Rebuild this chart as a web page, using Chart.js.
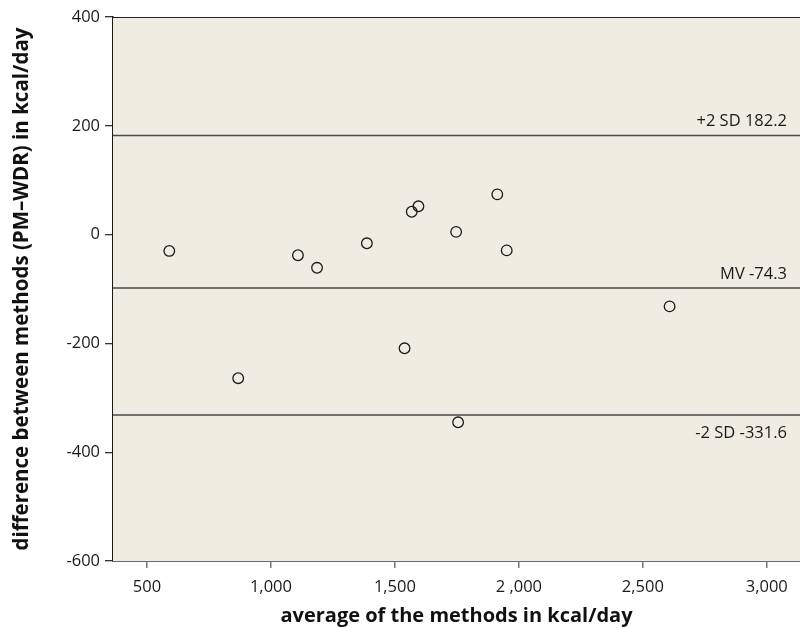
<!DOCTYPE html>
<html><head><meta charset="utf-8">
<script src="https://cdn.jsdelivr.net/npm/chart.js@4"></script>
<style>html,body{margin:0;padding:0;background:#fff;overflow:hidden}#wrap{width:800px;height:628px;overflow:hidden}canvas{display:block}</style>
</head><body><div id="wrap"><canvas id="c" width="800" height="628"></canvas></div>
<script>
// Data
const avgValues  = [590, 868, 1109, 1186, 1387, 1539, 1568, 1595, 1747, 1755, 1913, 1951, 2608];
const diffValues = [-30, -264, -38, -61, -16, -209, 42, 52, 5, -345, 74, -29, -132];
const xTicks = [500, 1000, 1500, 2000, 2500, 3000];
const xTickLabels = ["500", "1,000", "1,500", "2 ,000", "2,500", "3,000"];
const yTicks = [-600, -400, -200, 0, 200, 400];
const yTickLabels = ["-600", "-400", "-200", "0", "200", "400"];
const refLineValues = [182.2, -98, -331.6];
const refLineLabels = ["+2 SD 182.2", "MV -74.3", "-2 SD -331.6"];
const refLabelBelow = [false, false, true];
const xRange = [363, 3134];
const yRange = [-600, 400];

const FONT = "'Open Sans', 'Noto Sans', sans-serif";
const PLOT_BG = '#efece2';

const plotPlugin = {
  id: 'plotDecor',
  beforeDatasetsDraw(chart) {
    const {ctx, chartArea: a} = chart;
    ctx.save();
    ctx.fillStyle = PLOT_BG;
    ctx.fillRect(a.left, a.top, a.right - a.left, a.bottom - a.top);
    ctx.strokeStyle = '#222';
    ctx.lineWidth = 1.2;
    ctx.beginPath();
    ctx.moveTo(a.left, a.top + 0.5);
    ctx.lineTo(a.right, a.top + 0.5);
    ctx.stroke();
    const ys = chart.scales.y;
    ctx.strokeStyle = '#4a4a4a';
    ctx.lineWidth = 1.5;
    ctx.fillStyle = '#1a1a1a';
    ctx.font = "16.5px " + FONT;
    ctx.textAlign = 'right';
    ctx.textBaseline = 'middle';
    refLineValues.forEach((v, i) => {
      const py = ys.getPixelForValue(v);
      ctx.beginPath();
      ctx.moveTo(a.left, py);
      ctx.lineTo(a.right, py);
      ctx.stroke();
      const ty = refLabelBelow[i] ? py + 18 : py - 14;
      ctx.fillText(refLineLabels[i], a.right - 13, ty);
    });
    ctx.restore();
  }
};

new Chart(document.getElementById('c'), {
  type: 'scatter',
  data: {
    datasets: [{
      data: avgValues.map((x, i) => ({x: x, y: diffValues[i]})),
      pointRadius: 5.3,
      pointHoverRadius: 5.3,
      pointBorderWidth: 1.3,
      pointBorderColor: '#1a1a1a',
      pointBackgroundColor: 'rgba(0,0,0,0)',
      showLine: false
    }]
  },
  options: {
    responsive: false,
    animation: false,
    devicePixelRatio: 1,
    events: [],
    layout: {autoPadding: false, padding: {top: 17, right: 0, left: 0, bottom: 0}},
    plugins: {legend: {display: false}, tooltip: {enabled: false}},
    scales: {
      x: {
        type: 'linear',
        min: xRange[0], max: xRange[1],
        afterBuildTicks: s => { s.ticks = xTicks.map(v => ({value: v})); },
        afterFit: s => { s.height = 67; s.paddingRight = 0; s.paddingLeft = 0; },
        ticks: {
          autoSkip: false, maxRotation: 0,
          padding: 9,
          color: '#1a1a1a',
          font: {family: FONT, size: 16.5},
          callback: (v) => { const i = xTicks.indexOf(v); return i >= 0 ? xTickLabels[i] : ''; }
        },
        grid: {drawOnChartArea: false, drawTicks: true, tickLength: 7, color: '#777', lineWidth: 1.5},
        border: {display: true, color: '#6a6a6a', width: 2},
        title: {
          display: true,
          text: 'average of the methods in kcal/day',
          color: '#111',
          font: {family: FONT, size: 20, weight: 'bold'},
          padding: {top: 0, bottom: 0}
        }
      },
      y: {
        type: 'linear',
        min: yRange[0], max: yRange[1],
        afterBuildTicks: s => { s.ticks = yTicks.map(v => ({value: v})); },
        afterFit: s => { s.width = 113; s.paddingTop = 0; s.paddingBottom = 0; },
        ticks: {
          autoSkip: false,
          padding: 5,
          color: '#1a1a1a',
          font: {family: FONT, size: 16.5},
          callback: (v) => { const i = yTicks.indexOf(v); return i >= 0 ? yTickLabels[i] : ''; }
        },
        grid: {drawOnChartArea: false, drawTicks: true, tickLength: 8, color: '#333', lineWidth: 1.3},
        border: {display: true, color: '#1a1a1a', width: 1.5},
        title: {
          display: true,
          text: 'difference between methods (PM\u2013WDR) in kcal/day',
          color: '#111',
          font: {family: FONT, size: 20.5, weight: 'bold'},
          padding: {top: 10, bottom: 0}
        }
      }
    }
  },
  plugins: [plotPlugin]
});
</script>
</body></html>
